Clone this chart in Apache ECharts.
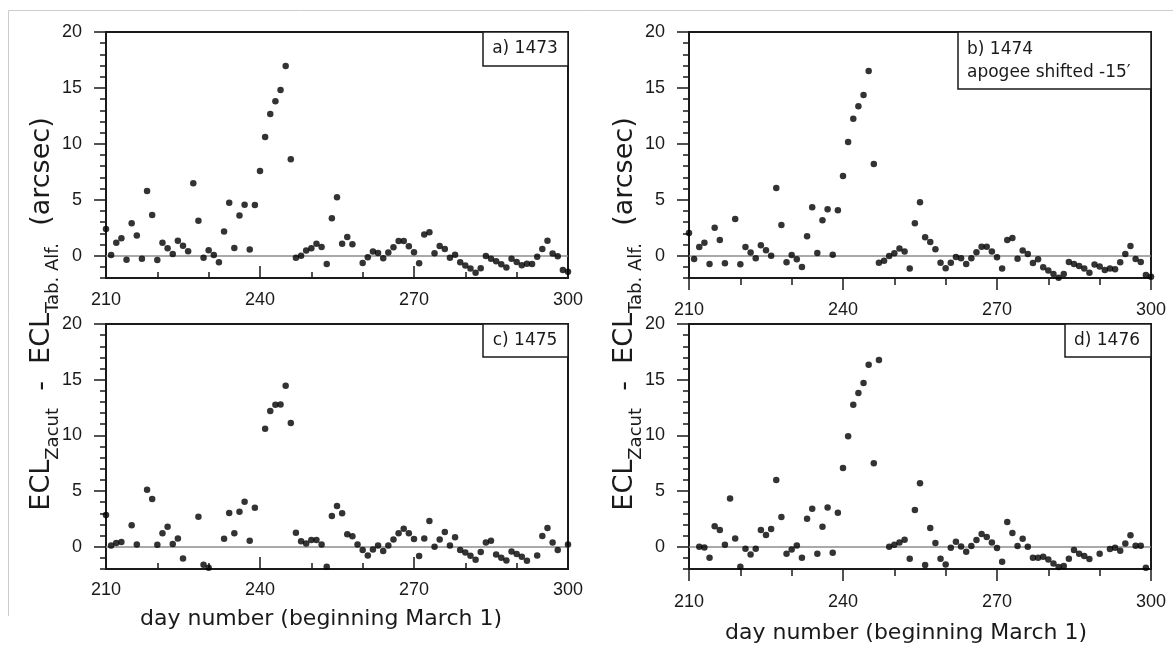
<!DOCTYPE html>
<html>
<head>
<meta charset="utf-8">
<script src="https://cdn.jsdelivr.net/npm/echarts@6/dist/echarts.min.js"></script>
<style>html,body{margin:0;padding:0;background:#fff}#c{width:1173px;height:650px}</style>
</head>
<body>
<div id="c"></div>
<script>
// ---- data (values for consecutive days starting at FIRST_DAY; null = no observation) ----
const FIRST_DAY = 210;
const xTicks = [210, 240, 270, 300];
const yTicks = [0, 5, 10, 15, 20];
const yMin = -2, yMax = 20;
const panelTitles = ['a) 1473', 'b) 1474', 'c) 1475', 'd) 1476'];
const panelNote = 'apogee shifted -15\u2032';
const xTitle = 'day number (beginning March 1)';

const val1473 = [2.38,0.06,1.16,1.55,-0.36,2.89,1.79,-0.27,5.78,3.64,
 -0.39,1.16,0.66,0.15,1.34,0.89,0.39,6.47,3.13,-0.18,
 0.48,0.06,-0.6,2.15,4.74,0.69,3.6,4.56,0.54,4.53,
 7.57,10.6,12.67,13.8,14.81,16.96,8.61,-0.18,0.0,0.45,
 0.66,1.07,0.77,-0.75,3.34,5.22,1.07,1.67,1.01,null,
 -0.66,-0.15,0.36,0.24,-0.24,0.27,0.75,1.31,1.31,0.83,
 0.3,-0.69,1.88,2.09,0.21,0.86,0.6,-0.18,0.09,-0.6,
 -0.89,-1.16,-1.52,-1.13,-0.03,-0.27,-0.51,-0.77,-1.07,-0.27,
 -0.57,-0.86,-0.72,-0.75,-0.09,0.6,1.34,0.18,-0.06,-1.28,
 -1.43];

const val1474 = [2.03,-0.3,0.77,1.16,-0.75,2.5,1.4,-0.69,null,3.28,
 -0.77,0.77,0.27,-0.24,0.92,0.48,0.0,6.05,2.74,-0.6,
 0.06,-0.33,-1.01,1.73,4.32,0.24,3.16,4.14,0.09,4.05,
 7.12,10.16,12.25,13.35,14.37,16.51,8.2,-0.63,-0.45,-0.03,
 0.21,0.63,0.36,-1.16,2.9,4.77,1.64,1.22,0.57,-0.63,
 -1.13,-0.63,-0.12,-0.24,-0.75,-0.24,0.3,0.8,0.8,0.36,
 -0.15,-1.16,1.39,1.57,-0.27,0.45,0.15,-0.66,-0.33,-1.04,
 -1.34,-1.64,-1.97,-1.64,-0.57,-0.75,-0.93,-1.16,-1.52,-0.8,
 -0.98,-1.28,-1.16,-1.22,-0.6,0.15,0.86,-0.3,-0.57,-1.73,
 -1.88];

const val1475 = [2.84,0.12,0.33,0.42,null,1.92,0.21,null,5.12,4.28,
 0.18,1.2,1.8,0.24,0.75,-1.05,null,null,2.69,-1.62,
 -1.89,null,null,0.72,3.02,1.2,3.14,4.04,0.54,3.5,
 null,10.6,12.19,12.75,12.78,14.46,11.1,1.26,0.5,0.3,
 0.6,0.6,0.21,-1.8,2.75,3.65,3.0,1.11,0.93,0.21,
 -0.3,-0.78,-0.24,0.12,-0.39,0.12,0.66,1.2,1.62,1.2,
 0.69,-0.84,0.75,2.31,0.0,0.66,1.32,0.12,0.84,-0.3,
 -0.51,-0.81,-1.17,-0.48,0.39,0.54,-0.69,-0.99,-1.23,-0.42,
 -0.66,-0.9,-1.26,null,-0.78,0.96,1.68,0.39,-0.3,null,
 0.21];

const val1476 = [null,null,0.0,-0.06,-0.99,1.83,1.5,0.18,4.34,0.75,
 -1.8,-0.18,-0.69,-0.18,1.5,1.05,1.59,5.99,2.66,-0.63,
 -0.24,0.12,-0.99,2.51,3.41,-0.63,1.8,3.53,-0.54,3.05,
 7.07,9.91,12.75,13.8,14.7,16.35,7.5,16.77,null,0.0,
 0.18,0.39,0.63,-1.08,3.29,5.69,-1.65,1.68,0.33,-1.08,
 -1.59,-0.09,0.45,0.03,-0.45,0.06,0.6,1.14,0.87,0.39,
 -0.12,-1.35,2.22,1.23,0.06,0.72,0.0,-0.99,-0.99,-0.9,
 -1.14,-1.5,-1.83,-1.74,-1.08,-0.3,-0.63,-0.84,-1.11,null,
 -0.63,null,-0.21,-0.09,-0.36,0.3,1.02,0.09,0.09,-1.89,
 null];

const allValues = [val1473, val1474, val1475, val1476];

// ---- layout / style ----
const FONT = 'DejaVu Sans';
const NUMFONT = 'Liberation Sans';
const INK = '#1a1a1a';
const layout = [
  {left:106, top:32,  height:246, inside:true,  margin:13},
  {left:689, top:32,  height:246, inside:false, margin:23},
  {left:106, top:324, height:245, inside:true,  margin:12},
  {left:689, top:324, height:245, inside:false, margin:24}
];
const W = 462;

const grids = [], xAxes = [], yAxes = [], series = [];
layout.forEach((L, i) => {
  grids.push({left:L.left, top:L.top, width:W, height:L.height, show:true,
    borderColor:INK, borderWidth:2, backgroundColor:'transparent', containLabel:false, outerBoundsMode:'none'});
  xAxes.push({type:'value', gridIndex:i, min:xTicks[0], max:xTicks[xTicks.length-1],
    interval:xTicks[1]-xTicks[0], position:'bottom',
    axisLine:{show:true, onZero:false, lineStyle:{color:INK, width:2}},
    axisTick:{show:true, inside:L.inside, length:12, lineStyle:{color:INK, width:1.5}},
    minorTick:{show:true, splitNumber:3, length:L.inside?6:7, lineStyle:{color:INK, width:1.5}},
    axisLabel:{margin:L.margin, color:INK, fontFamily:NUMFONT, fontSize:18},
    splitLine:{show:false}, minorSplitLine:{show:false}});
  // minor ticks + labels
  yAxes.push({type:'value', gridIndex:i, min:yMin, max:yMax, interval:1, position:'left',
    axisLine:{show:true, onZero:false, lineStyle:{color:INK, width:2}},
    axisTick:{show:true, length:6, lineStyle:{color:INK, width:1.5}},
    axisLabel:{margin:24, color:INK, fontFamily:NUMFONT, fontSize:18,
      formatter: v => (yTicks.indexOf(v) >= 0 ? String(v) : '')},
    splitLine:{show:false}});
  // major ticks
  yAxes.push({type:'value', gridIndex:i, min:yMin, max:yMax, position:'left',
    axisLine:{show:false},
    axisTick:{show:true, length:12, customValues:yTicks, lineStyle:{color:INK, width:1.5}},
    axisLabel:{show:false}, splitLine:{show:false}});
  const data = [];
  allValues[i].forEach((v, k) => { if (v !== null) data.push([FIRST_DAY + k, v]); });
  series.push({type:'scatter', xAxisIndex:i, yAxisIndex:2*i, data:data, symbol:'circle',
    symbolSize:6.5, itemStyle:{color:'#000'}, z:3, silent:true,
    markLine:{silent:true, symbol:['none','none'], z:1, label:{show:false},
      lineStyle:{color:'#8c8c8c', width:1.5, type:'solid'}, data:[{yAxis:0}]}});
});

// ---- graphic: legend boxes, axis titles, outer frame ----
const yTitleRich = {
  m:{fontFamily:FONT, fontSize:27, lineHeight:40, fill:INK},
  s:{fontFamily:FONT, fontSize:18, lineHeight:17, verticalAlign:'bottom', fill:INK}
};
const yTitleText = '{m|ECL}{s|Zacut}{m|  -  ECL}{s|Tab. Alf.}{m|  (arcsec)}';
const graphic = [
  {type:'polyline', shape:{points:[[8.5,616],[8.5,10.5],[1173,10.5]]}, style:{stroke:'#cccccc', lineWidth:1, fill:null}},
  // legend boxes
  {type:'rect', shape:{x:483, y:32, width:85, height:34}, style:{fill:'#fff', stroke:INK, lineWidth:1.5}, z:10},
  {type:'text', x:525, y:49, style:{text:panelTitles[0], fontFamily:FONT, fontSize:17, fill:INK, align:'center', verticalAlign:'middle'}, z:11},
  {type:'rect', shape:{x:958, y:32, width:193, height:57}, style:{fill:'#fff', stroke:INK, lineWidth:1.5}, z:10},
  {type:'text', x:967, y:49.5, style:{text:panelTitles[1], fontFamily:FONT, fontSize:17, fill:INK, align:'left', verticalAlign:'middle'}, z:11},
  {type:'text', x:967, y:73, style:{text:panelNote, fontFamily:FONT, fontSize:17, fill:INK, align:'left', verticalAlign:'middle'}, z:11},
  {type:'rect', shape:{x:483, y:324, width:85, height:33}, style:{fill:'#fff', stroke:INK, lineWidth:1.5}, z:10},
  {type:'text', x:525, y:341, style:{text:panelTitles[2], fontFamily:FONT, fontSize:17, fill:INK, align:'center', verticalAlign:'middle'}, z:11},
  {type:'rect', shape:{x:1065, y:324, width:86, height:33}, style:{fill:'#fff', stroke:INK, lineWidth:1.5}, z:10},
  {type:'text', x:1107, y:341, style:{text:panelTitles[3], fontFamily:FONT, fontSize:17, fill:INK, align:'center', verticalAlign:'middle'}, z:11},
  // x titles
  {type:'text', x:321, y:619, style:{text:xTitle, fontFamily:FONT, fontSize:22, fill:INK, align:'center', verticalAlign:'middle'}},
  {type:'text', x:906, y:633, style:{text:xTitle, fontFamily:FONT, fontSize:22, fill:INK, align:'center', verticalAlign:'middle'}},
  // y titles
  {type:'text', x:42, y:314, rotation:Math.PI/2, style:{text:yTitleText, rich:yTitleRich, align:'center', verticalAlign:'middle'}},
  {type:'text', x:625, y:314, rotation:Math.PI/2, style:{text:yTitleText, rich:yTitleRich, align:'center', verticalAlign:'middle'}}
];

const chart = echarts.init(document.getElementById('c'), null, {renderer:'canvas'});
chart.setOption({animation:false, backgroundColor:'#fff', grid:grids, xAxis:xAxes, yAxis:yAxes, series:series, graphic:graphic});
</script>
</body>
</html>
